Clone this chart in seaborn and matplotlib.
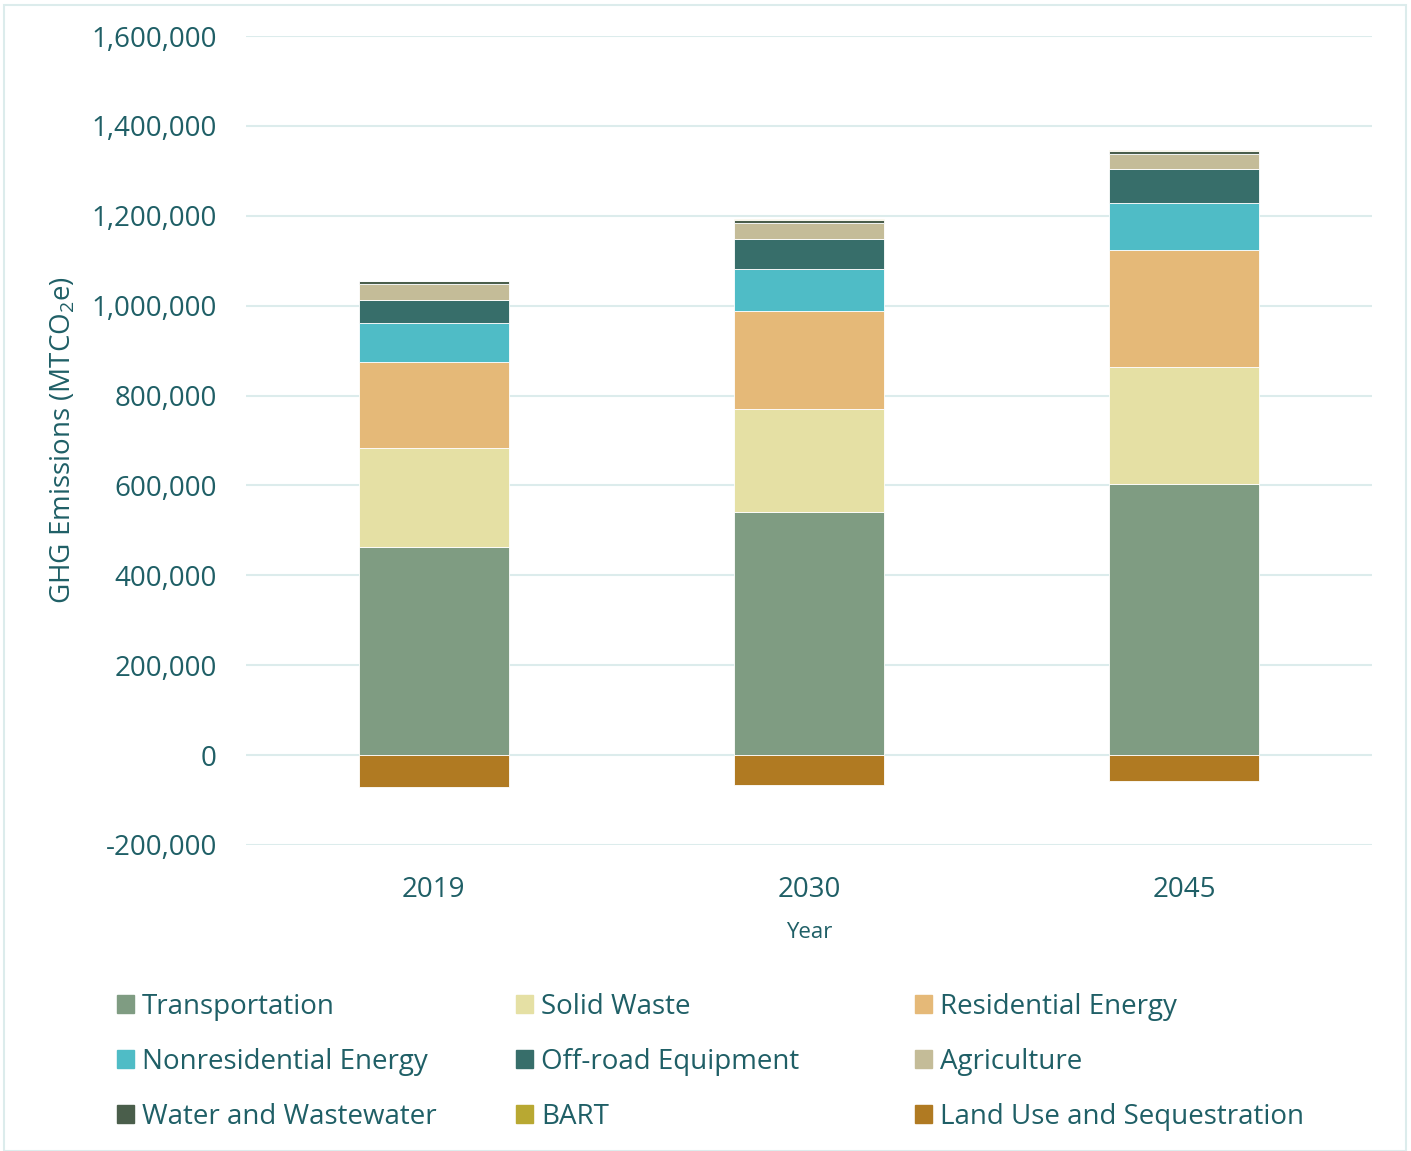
import matplotlib
matplotlib.use("Agg")
import matplotlib.pyplot as plt
import matplotlib.patches as mpatches
from matplotlib.ticker import FuncFormatter
import seaborn as sns
import numpy as np
import pandas as pd

years = ["2019", "2030", "2045"]
transportation = [463000, 541000, 603000]
solid_waste = [220000, 229000, 260000]
residential = [191000, 218000, 261000]
nonresidential = [87000, 93000, 104000]
offroad = [51000, 67000, 76000]
agriculture = [37000, 37000, 34000]
water = [6000, 6000, 7000]
bart = [1000, 1000, 1000]
land_use = [-71000, -67000, -58000]

sectors = ["Transportation", "Solid Waste", "Residential Energy",
           "Nonresidential Energy", "Off-road Equipment", "Agriculture",
           "Water and Wastewater", "BART", "Land Use and Sequestration"]
colors = ["#7f9c82", "#e5e0a4", "#e5b978", "#4fbcc6", "#376e6a",
          "#c4bc98", "#4a5e4b", "#b8a832", "#b07a22"]
text_color = "#1f5f66"
grid_color = "#dcecec"

sns.set_theme(style="white")
plt.rcParams["font.family"] = ["Open Sans", "DejaVu Sans"]
plt.rcParams["mathtext.default"] = "regular"

fig = plt.figure(figsize=(14.11, 11.51), dpi=100)
ax = fig.add_axes([0.1743, 0.2659, 0.9724 - 0.1743, 0.9687 - 0.2659])

positive = [transportation, solid_waste, residential, nonresidential,
            offroad, agriculture, water, bart]
bottom = np.zeros(len(years))
for name, vals, col in zip(sectors[:8], positive, colors[:8]):
    df = pd.DataFrame({"Year": years, "Value": vals})
    sns.barplot(data=df, x="Year", y="Value", order=years, color=col,
                saturation=1, width=0.4, bottom=bottom, edgecolor="white",
                linewidth=0.6, ax=ax, zorder=3)
    bottom = bottom + np.array(vals)

df = pd.DataFrame({"Year": years, "Value": land_use})
sns.barplot(data=df, x="Year", y="Value", order=years, color=colors[8],
            saturation=1, width=0.4, edgecolor="white", linewidth=0.6,
            ax=ax, zorder=3)

ax.set_xlim(-0.5, 2.5)
ax.set_ylim(-200000, 1600000)
ax.set_yticks(np.arange(-200000, 1600001, 200000))
ax.yaxis.set_major_formatter(FuncFormatter(lambda v, p: f"{int(v):,}"))
ax.grid(axis="y", color=grid_color, linewidth=1.5, zorder=0)
ax.set_axisbelow(True)
for s in ax.spines.values():
    s.set_visible(False)
ax.tick_params(axis="y", length=0, pad=21, labelsize=20, labelcolor=text_color)
ax.tick_params(axis="x", length=0, pad=22, labelsize=20, labelcolor=text_color)
ax.set_xlabel("Year", fontsize=16, color=text_color, labelpad=13)
ax.set_ylabel("GHG Emissions (MTCO$_2$e)", fontsize=20, color=text_color, labelpad=10)

# legend: three columns placed separately, filled row-wise
handles = [mpatches.Patch(color=c, label=n) for n, c in zip(sectors, colors)]
col_x = [117, 516, 915]
for j, x0 in enumerate(col_x):
    idx = [j, j + 3, j + 6]
    fig.legend([handles[i] for i in idx], [sectors[i] for i in idx],
               loc="upper left", bbox_to_anchor=(x0 / 1411, 1 - 993 / 1151),
               frameon=False, fontsize=20, labelcolor=text_color,
               handlelength=0.6, handleheight=0.6, handletextpad=0.3,
               labelspacing=0.97, borderpad=0, borderaxespad=0)

fig.patches.append(mpatches.Rectangle((0.003, 0.0), 0.9935, 0.996,
                                      transform=fig.transFigure, fill=False,
                                      edgecolor=grid_color, linewidth=1.5))

fig.savefig("out.png", dpi=100)
